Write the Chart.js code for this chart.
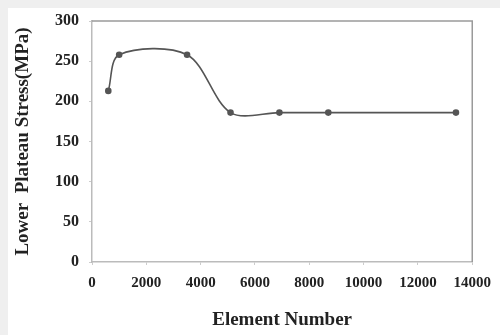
<!DOCTYPE html>
<html>
<head>
<meta charset="utf-8">
<script src="https://cdn.jsdelivr.net/npm/chart.js@4"></script>
<style>
  html, body { margin: 0; padding: 0; background: #efefef; }
  #wrap { position: absolute; left: 8px; top: 8px; width: 492px; height: 327px; background: #fff; }
</style>
</head>
<body>
<div id="wrap"><canvas id="myChart" width="492" height="327"></canvas></div>
<script>
// element count vs lower plateau stress
const elementNumber = [600, 1000, 3500, 5100, 6900, 8700, 13400];
const plateauStress = [213, 258, 258, 186, 186, 186, 186];
const xTicks = [0, 2000, 4000, 6000, 8000, 10000, 12000, 14000];
const yTicks = [0, 50, 100, 150, 200, 250, 300];

const points = elementNumber.map((x, i) => ({ x: x, y: plateauStress[i] }));
const serif = "'Liberation Serif', 'Times New Roman', serif";

// top and right frame lines
const framePlugin = {
  id: "frame",
  afterDraw(chart) {
    const a = chart.chartArea;
    const ctx = chart.ctx;
    ctx.save();
    ctx.strokeStyle = "#9a9a9a";
    ctx.lineWidth = 1.5;
    ctx.beginPath();
    ctx.moveTo(a.left, a.top);
    ctx.lineTo(a.right, a.top);
    ctx.lineTo(a.right, a.bottom);
    ctx.stroke();
    ctx.restore();
  }
};

var ctx = document.getElementById("myChart").getContext("2d");
var chart = new Chart(ctx, {
  type: "scatter",
  data: {
    datasets: [
      {
        data: points,
        showLine: true,
        borderColor: "#555555",
        backgroundColor: "#555555",
        borderWidth: 1.6,
        pointRadius: 2.5,
        tension: 0.32,
      },
    ],
  },
  options: {
    responsive: false,
    animation: false,
    layout: { padding: { top: 13, right: 22 } },
    plugins: { legend: { display: false }, tooltip: { enabled: false } },
    scales: {
      x: {
        min: 0,
        max: 14000,
        afterBuildTicks: (s) => { s.ticks = xTicks.map((v) => ({ value: v })); },
        grid: { drawOnChartArea: false, tickLength: 3, color: "#cccccc" },
        border: { color: "#bbbbbb", width: 1.5 },
        ticks: { color: "#222", font: { family: serif, size: 15, weight: "bold" }, padding: 9, maxRotation: 0, callback: (v) => String(v) },
        title: { display: true, text: "Element Number", color: "#222", font: { family: serif, size: 19, weight: "bold" }, padding: { top: 15 } },
        afterFit: (s) => { s.height = 73; },
      },
      y: {
        min: 0,
        max: 300,
        afterBuildTicks: (s) => { s.ticks = yTicks.map((v) => ({ value: v })); },
        grid: { drawOnChartArea: false, tickLength: 3, color: "#cccccc" },
        border: { color: "#bbbbbb", width: 1.5 },
        ticks: { color: "#222", font: { family: serif, size: 16, weight: "bold" }, padding: 10, callback: (v) => String(v) },
        title: { display: true, text: "Lower  Plateau Stress(MPa)", color: "#222", font: { family: serif, size: 19, weight: "bold" }, padding: { bottom: 6 } },
        afterFit: (s) => { s.width = 84; s.paddingTop = 0; s.paddingBottom = 0; },
      },
    },
  },
  plugins: [framePlugin],
});
</script>
</body>
</html>
